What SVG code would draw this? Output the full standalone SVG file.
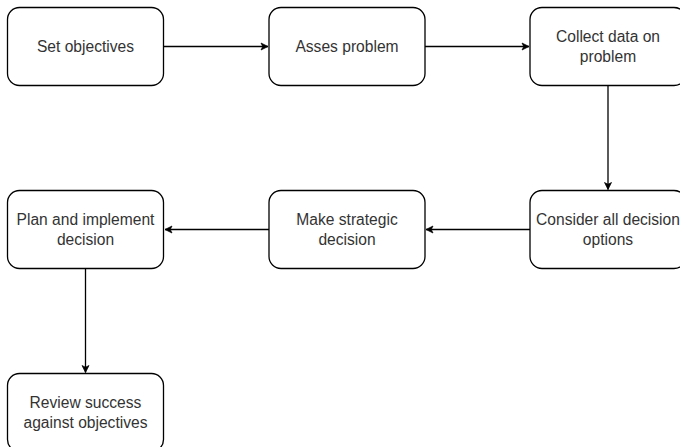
<svg xmlns="http://www.w3.org/2000/svg" width="680" height="447" viewBox="0 0 680 447">
<style>
.box{fill:#fff;stroke:#000;stroke-width:1.3}
.lbl{font-family:"Liberation Sans",Arial,sans-serif;font-size:15.6px;fill:#333;text-anchor:middle}
.edge{fill:none;stroke:#000;stroke-width:1.3}
</style>
<defs>
<marker id="arr" viewBox="0 0 10 10" refX="10" refY="5" markerWidth="7" markerHeight="7" markerUnits="userSpaceOnUse" orient="auto" overflow="visible">
<path d="M0,0 L10,5 L0,10 L2.5,5 Z" fill="#000" stroke="#000" stroke-width="1"/>
</marker>
</defs>
<rect width="680" height="447" fill="#fff"/>
<g id="connectors">
<path class="edge" d="M164,46.5 H268" marker-end="url(#arr)"/>
<path class="edge" d="M425,46.5 H529" marker-end="url(#arr)"/>
<path class="edge" d="M608,85.5 V189.5" marker-end="url(#arr)"/>
<path class="edge" d="M530,229.5 H426" marker-end="url(#arr)"/>
<path class="edge" d="M269,229.5 H165" marker-end="url(#arr)"/>
<path class="edge" d="M85.5,268.5 V372.5" marker-end="url(#arr)"/>
</g>
<g id="n1"><rect class="box" x="7.5" y="7.5" width="156" height="78" rx="12"/><text class="lbl" x="85.5" y="52">Set objectives</text></g>
<g id="n2"><rect class="box" x="269" y="7.5" width="156" height="78" rx="12"/><text class="lbl" x="347" y="52">Asses problem</text></g>
<g id="n3"><rect class="box" x="530" y="7.5" width="156" height="78" rx="12"/><text class="lbl" x="608" y="42.25">Collect data on</text><text class="lbl" x="608" y="61.75">problem</text></g>
<g id="n4"><rect class="box" x="530" y="190.5" width="156" height="78" rx="12"/><text class="lbl" x="608" y="225.25">Consider all decision</text><text class="lbl" x="608" y="244.75">options</text></g>
<g id="n5"><rect class="box" x="269" y="190.5" width="156" height="78" rx="12"/><text class="lbl" x="347" y="225.25">Make strategic</text><text class="lbl" x="347" y="244.75">decision</text></g>
<g id="n6"><rect class="box" x="7.5" y="190.5" width="156" height="78" rx="12"/><text class="lbl" x="85.5" y="225.25">Plan and implement</text><text class="lbl" x="85.5" y="244.75">decision</text></g>
<g id="n7"><rect class="box" x="7.5" y="373.5" width="156" height="78" rx="12"/><text class="lbl" x="85.5" y="408.25">Review success</text><text class="lbl" x="85.5" y="427.75">against objectives</text></g>
</svg>
